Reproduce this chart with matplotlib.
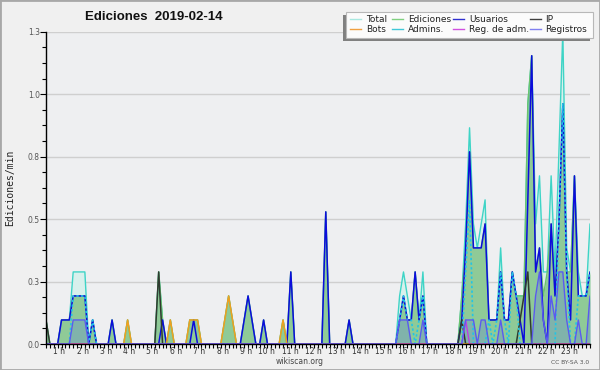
import matplotlib
matplotlib.use('Agg')
import matplotlib.pyplot as plt
import numpy as np
from matplotlib.patches import Rectangle
from matplotlib.lines import Line2D
import matplotlib.transforms as mtransforms

# ---------------- data (edits per 10-minute bin, bin index 0 = 00:00) ----------------
N_BINS = 141
BIN_MINUTES = 10
hour_labels = [f"{h} h" for h in range(1, 24)]
y_tick_values = [0, 0.26, 0.52, 0.78, 1.04, 1.3]
y_tick_labels = ['0.0', '0.3', '0.5', '0.8', '1.0', '1.3']

total = {0: 1, 4: 1, 5: 1, 6: 1, 7: 3, 8: 3, 9: 3, 10: 3, 12: 1, 17: 1, 21: 1,
         29: 3, 30: 1, 32: 1, 37: 1, 38: 1, 39: 1, 46: 1, 47: 2, 48: 1,
         51: 1, 52: 2, 53: 1, 56: 1, 61: 1, 63: 3, 72: 5.5, 78: 1,
         91: 2, 92: 3, 93: 2, 94: 1, 95: 3, 96: 1, 97: 3,
         107: 2, 108: 5, 109: 9, 110: 5, 111: 4, 112: 5, 113: 6, 114: 1, 115: 1,
         116: 1, 117: 4, 118: 1, 119: 1, 120: 3, 121: 2, 122: 2, 123: 2, 124: 10,
         125: 12, 126: 5, 127: 7, 128: 3, 129: 3, 130: 7, 131: 3, 132: 8, 133: 13,
         134: 4, 135: 3, 136: 7, 137: 3, 138: 2, 139: 2, 140: 5}
edits = {0: 1, 4: 1, 5: 1, 6: 1, 7: 2, 8: 2, 9: 2, 10: 2, 12: 1, 17: 1, 21: 1,
         29: 3, 30: 1, 32: 1, 37: 1, 38: 1, 39: 1, 46: 1, 47: 2, 48: 1,
         51: 1, 52: 2, 53: 1, 56: 1, 61: 1, 63: 3, 72: 5.5, 78: 1,
         91: 1, 92: 2, 93: 1, 94: 1, 95: 3, 96: 1, 97: 2,
         107: 2, 108: 4, 109: 8, 110: 4, 111: 4, 112: 4, 113: 5, 114: 1, 115: 1,
         116: 1, 117: 3, 118: 1, 119: 1, 120: 3, 121: 2, 122: 2, 123: 2, 124: 10,
         125: 12, 126: 3, 127: 4, 128: 2, 129: 3, 130: 5, 131: 2, 132: 5, 133: 10,
         134: 3, 135: 3, 136: 7, 137: 2, 138: 2, 139: 2, 140: 3}
users = {4: 1, 5: 1, 6: 1, 7: 2, 8: 2, 9: 2, 10: 2, 12: 1, 17: 1, 30: 1, 38: 1,
         51: 1, 52: 2, 53: 1, 56: 1, 63: 3, 72: 5.5, 78: 1,
         91: 1, 92: 2, 93: 1, 94: 1, 95: 3, 96: 1, 97: 2,
         107: 1, 108: 4, 109: 8, 110: 4, 111: 4, 112: 4, 113: 5, 114: 1, 115: 1,
         116: 1, 117: 3, 118: 1, 119: 1, 120: 3, 121: 2, 122: 1, 124: 6, 125: 12,
         126: 3, 127: 4, 128: 1, 130: 5, 131: 2, 132: 5, 133: 10, 134: 3, 135: 1,
         136: 7, 137: 2, 138: 2, 139: 2, 140: 3}
ip = {0: 1, 29: 3, 107: 1, 122: 1, 123: 2, 124: 3}
bots = {21: 1, 32: 1, 37: 1, 38: 1, 39: 1, 46: 1, 47: 2, 48: 1, 61: 1}
admins = {7: 2, 8: 2, 9: 2, 10: 2, 12: 1, 91: 1, 92: 2, 93: 1, 94: 1, 96: 1, 97: 2,
          108: 3, 109: 6, 114: 1, 116: 1, 117: 3, 118: 1, 120: 3, 121: 2,
          132: 5, 133: 10, 134: 3, 137: 2, 138: 2, 139: 2, 140: 3}
admin_logs = {108: 1}
logs = {7: 1, 8: 1, 9: 1, 10: 1, 91: 1, 92: 1, 93: 1, 97: 1,
        108: 1, 109: 1, 110: 1, 112: 1, 113: 1, 117: 1, 126: 2, 127: 3, 128: 1,
        130: 2, 131: 1, 132: 3, 133: 3, 134: 1, 137: 1, 140: 2}


def per_minute(d):
    a = np.zeros(N_BINS)
    for k, v in d.items():
        a[k] = v
    return a / BIN_MINUTES


x = np.arange(N_BINS)
s_total = per_minute(total)
s_edits = per_minute(edits)
s_users = per_minute(users)
s_ip = per_minute(ip)
s_bots = per_minute(bots)
s_admins = per_minute(admins)
s_admin_logs = per_minute(admin_logs)
s_logs = per_minute(logs)

# ---------------- figure ----------------
W, H = 600, 370
fig = plt.figure(figsize=(W / 100, H / 100), dpi=100, facecolor='#f0f0f0')


def fx(px):
    return px / W


def fy(py):
    return 1 - py / H


ax = fig.add_axes([fx(46), fy(344), fx(590) - fx(46), fy(31.7) - fy(344)])
ax.set_facecolor('#eeeff1')
ax.set_xlim(0, N_BINS - 1)
ax.set_ylim(0, 1.3)

for yv in y_tick_values:
    ax.axhline(yv, color='#cfcfcf', lw=1, zorder=0)

# fills
ax.fill_between(x, 0, s_total, color='#d8f0ec', lw=0, zorder=1)
ax.fill_between(x, 0, s_edits, color='#8fca97', lw=0, zorder=2)
ax.fill_between(x, 0, s_logs, color='#5c78e0', alpha=0.28, lw=0, zorder=3)

# lines
line_kw = dict(solid_joinstyle='round', solid_capstyle='round')
ax.plot(x, s_total, color='#3ed4c6', lw=1, zorder=4, **line_kw)
ax.plot(x, s_edits, color='#6cc26c', lw=1, zorder=5, **line_kw)
ax.plot(x, s_users, color='#0c0cdc', lw=1.1, zorder=6, **line_kw)
ax.plot(x, s_ip, color='#303a30', lw=1.1, zorder=7, **line_kw)
ax.plot(x, s_bots, color='#f0a020', lw=1.1, zorder=8, **line_kw)
ax.plot(x, s_admins, color='#22c4e6', lw=1.2, zorder=9, dashes=(1.4, 1.4))
ax.plot(x, s_admin_logs, color='#c040e0', lw=1, zorder=10, **line_kw)
ax.plot(x, s_logs, color='#5a5af0', lw=1, zorder=11, **line_kw)

for sp in ['top', 'right']:
    ax.spines[sp].set_visible(False)
for sp in ['left', 'bottom']:
    ax.spines[sp].set_color('black')
    ax.spines[sp].set_linewidth(1)
    ax.spines[sp].set_zorder(20)

ax.set_yticks(y_tick_values)
ax.set_yticklabels(y_tick_labels)
ax.set_yticks(np.arange(0, 1.3001, 0.065), minor=True)
ax.tick_params(axis='y', which='major', length=4, width=0.8, pad=0.5,
               labelsize=5.5, labelcolor='#555555', direction='out')
ax.tick_params(axis='y', which='minor', length=3, width=0.8, direction='out')

ax.set_xticks(x)
ax.set_xticklabels([])
ax.tick_params(axis='x', which='major', length=3, width=0.8, direction='out')

lab_tr = mtransforms.offset_copy(ax.get_xaxis_transform(), fig=fig, x=-4, y=-7, units='dots')
for h, lab in enumerate(hour_labels, start=1):
    ax.text(6 * h, 0, lab, transform=lab_tr, ha='right', va='center',
            fontsize=5.5, color='#333333')

fig.text(fx(10), fy(188), 'Ediciones/min', rotation=90, ha='center', va='center',
         fontsize=7, family='DejaVu Sans Mono', color='#222222')
fig.text(fx(154), fy(17), 'Ediciones  2019-02-14', ha='center', va='center',
         fontsize=9.5, fontweight='bold', family='Liberation Sans', color='#111111')
fig.text(fx(300), fy(361.5), 'wikiscan.org', ha='center', va='center',
         fontsize=5.5, color='#444444')
fig.text(fx(589), fy(362.5), 'CC BY-SA 3.0', ha='right', va='center',
         fontsize=4.3, color='#555555')

# legend
fig.add_artist(Rectangle((fx(342.7), fy(41)), fx(590.3) - fx(342.7), fy(14.7) - fy(41),
                         transform=fig.transFigure, facecolor='#808080', edgecolor='none', zorder=30))
fig.add_artist(Rectangle((fx(345.7), fy(38.3)), fx(593.3) - fx(345.7), fy(11.7) - fy(38.3),
                         transform=fig.transFigure, facecolor='#fbfbfb', edgecolor='#b8b8b8',
                         lw=0.8, zorder=31))
legend_items = [
    ('Total', '#a8e8e0', 350, 366, 19), ('Ediciones', '#80d080', 392, 408, 19),
    ('Usuarios', '#3030d0', 453, 469, 19), ('IP', '#404040', 530, 545, 19),
    ('Bots', '#f0a040', 350, 366, 29), ('Admins.', '#40c8d8', 392, 408, 29),
    ('Reg. de adm.', '#d050e0', 453, 469, 29), ('Registros', '#8080f0', 530, 545, 29),
]
for name, col, lx, tx, ly in legend_items:
    fig.add_artist(Line2D([fx(lx), fx(lx + 11)], [fy(ly), fy(ly)], transform=fig.transFigure,
                          color=col, lw=1, zorder=32))
    fig.text(fx(tx), fy(ly), name, ha='left', va='center', fontsize=6.5,
             color='#222222', zorder=33)

# outer frame
fig.add_artist(Rectangle((0, 0), 1, 1, transform=fig.transFigure, facecolor='none',
                         edgecolor='#a8a8a8', lw=2, zorder=40))

fig.savefig('out.png', dpi=100, facecolor=fig.get_facecolor())
